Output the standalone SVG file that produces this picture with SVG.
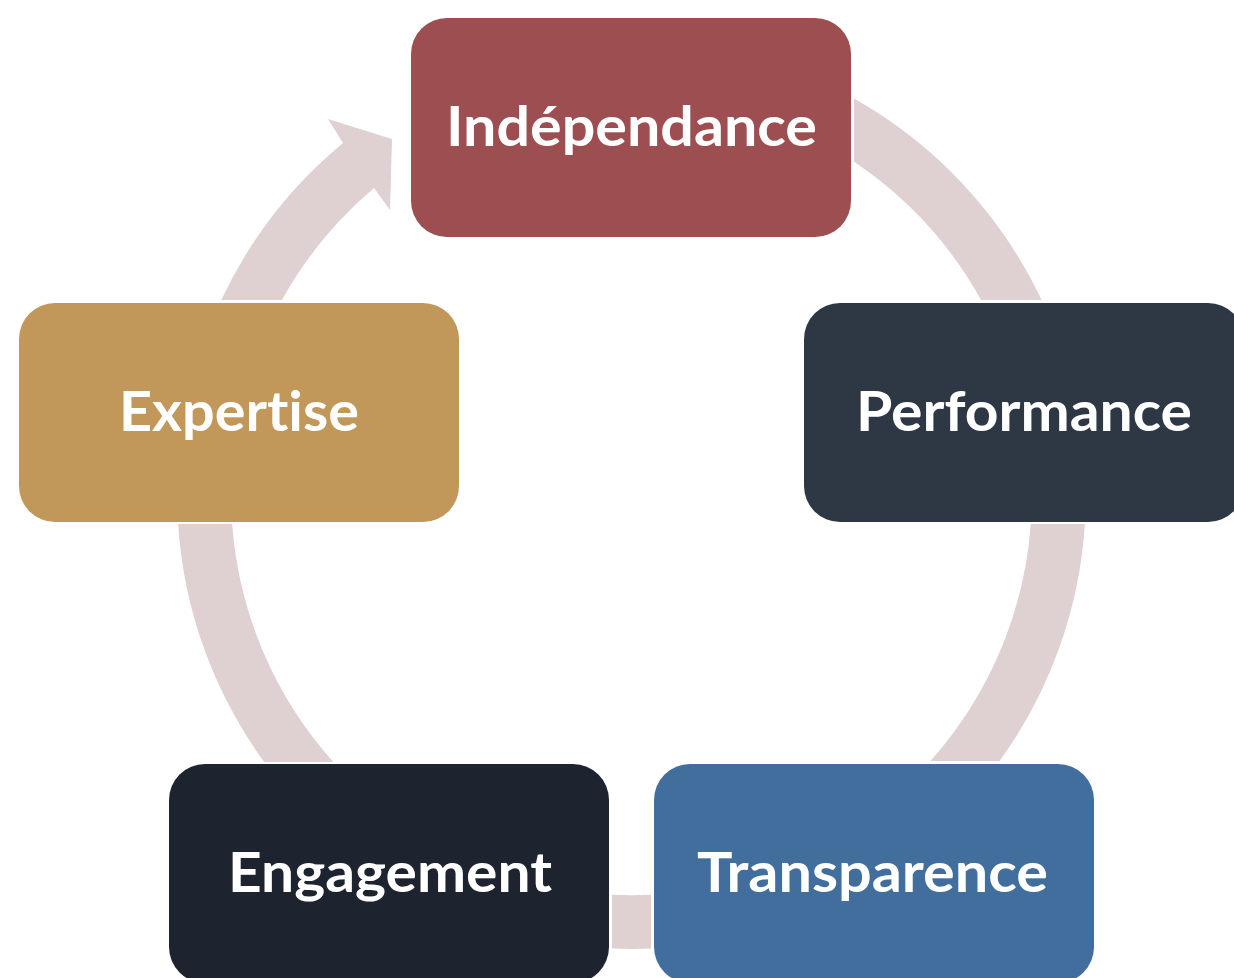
<svg xmlns="http://www.w3.org/2000/svg" width="1234" height="978" viewBox="0 0 1234 978">
  <style>
    .ring { fill: #DFD0D2; }
    .box { stroke: none; }
    .lbl { font-family: "Lato", "Open Sans", "DejaVu Sans", sans-serif; font-weight: 700; font-size: 55px; fill: #FFFFFF; text-anchor: middle; font-variant-ligatures: none; font-feature-settings: "liga" 0, "dlig" 0; }
  </style>
  <rect x="0" y="0" width="1234" height="978" fill="#FFFFFF"/>
  <g id="connectors">
    <path class="ring" d="M 221.3,300 A 454.3 454.3 0 0 1 343,143 L 328,119 L 392,139 L 390,210 L 374,188 A 400.4 400.4 0 0 0 281.9,300 Z"/>
    <path class="ring" d="M 854,98.6 A 454.3 454.3 0 0 1 1041.7,300 L 981.1,300 A 400.4 400.4 0 0 0 854,161.8 Z"/>
    <path class="ring" d="M 1084.9,524 A 454.3 454.3 0 0 1 999.6,761 L 930.5,761 A 400.4 400.4 0 0 0 1030.8,524 Z"/>
    <path class="ring" d="M 651,948.6 A 454.3 454.3 0 0 1 612,948.6 L 612,894.7 A 400.4 400.4 0 0 0 651,894.7 Z"/>
    <path class="ring" d="M 264.2,762 A 454.3 454.3 0 0 1 178.1,524 L 232.2,524 A 400.4 400.4 0 0 0 333.4,762 Z"/>
  </g>
  <g id="node-independance">
    <rect class="box" x="411" y="18" width="440" height="219" rx="36" ry="36" fill="#9C4E51"/>
    <text class="lbl" x="631.5" y="146" textLength="371" lengthAdjust="spacingAndGlyphs">Indépendance</text>
  </g>
  <g id="node-performance">
    <rect class="box" x="804" y="303" width="440" height="219" rx="36" ry="36" fill="#2E3744"/>
    <text class="lbl" x="1024" y="431" textLength="336" lengthAdjust="spacingAndGlyphs">Performance</text>
  </g>
  <g id="node-transparence">
    <rect class="box" x="654" y="764" width="440" height="219" rx="36" ry="36" fill="#416E9D"/>
    <text class="lbl" x="872.5" y="892" textLength="351" lengthAdjust="spacingAndGlyphs">Transparence</text>
  </g>
  <g id="node-engagement">
    <rect class="box" x="169" y="764" width="440" height="219" rx="36" ry="36" fill="#1E2330"/>
    <text class="lbl" x="390" y="892" textLength="324" lengthAdjust="spacingAndGlyphs">Engagement</text>
  </g>
  <g id="node-expertise">
    <rect class="box" x="19" y="303" width="440" height="219" rx="36" ry="36" fill="#C1975A"/>
    <text class="lbl" x="239" y="431" textLength="240" lengthAdjust="spacingAndGlyphs">Expertise</text>
  </g>
</svg>
